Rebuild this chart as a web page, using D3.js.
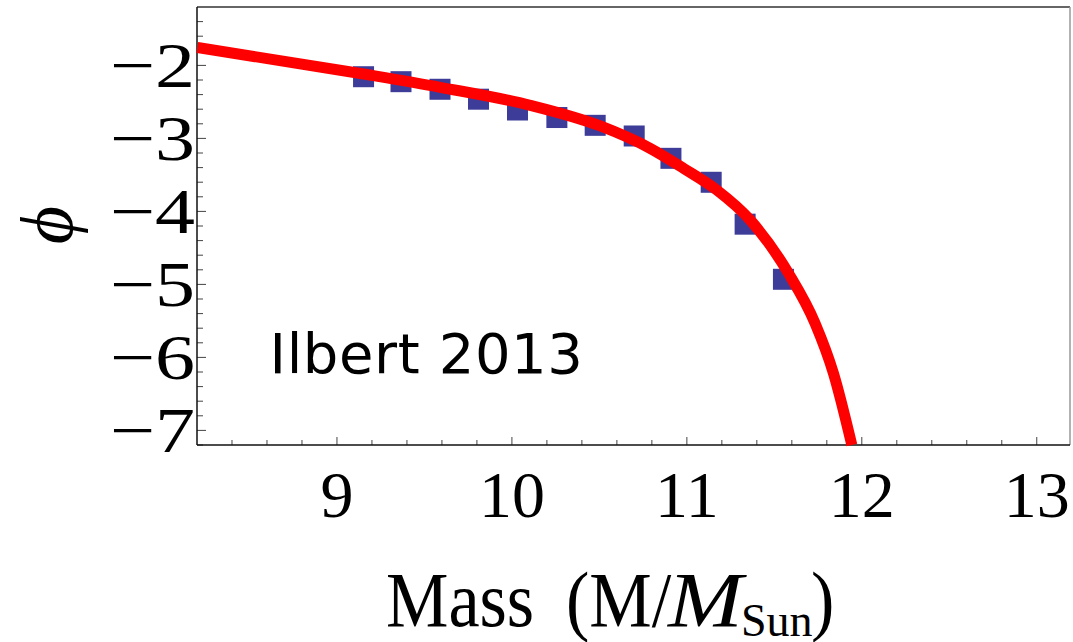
<!DOCTYPE html>
<html>
<head>
<meta charset="utf-8">
<script src="https://cdn.jsdelivr.net/npm/d3@7"></script>
<style>
  html, body { margin: 0; padding: 0; background: #fff; }
  svg { display: block; }
</style>
</head>
<body>
<svg id="chart" width="1073" height="642"></svg>
<script>
// ---- data ----
const massPoints = [9.152, 9.366, 9.589, 9.809, 10.032, 10.257, 10.476, 10.699, 10.909, 11.139, 11.333, 11.552];
const phiPoints  = [-2.155, -2.223, -2.327, -2.463, -2.611, -2.714, -2.821, -2.967, -3.273, -3.601, -4.175, -4.930];

const fitMass = [8.202, 9.152, 9.590, 10.105, 10.505, 10.790, 10.981, 11.171, 11.362, 11.581, 11.733, 11.838, 11.943];
const fitPhi  = [-1.755, -2.118, -2.300, -2.547, -2.830, -3.136, -3.410, -3.707, -4.118, -4.848, -5.533, -6.218, -7.200];

const xTickValues = [9, 10, 11, 12, 13];
const yTickValues = [-2, -3, -4, -5, -6, -7];
const xDomain = [8.2, 13.19];
const yDomain = [-1.2, -7.2];
const annotation = "Ilbert 2013";

// ---- layout ----
const L = 197, R = 1070, T = 7, B = 445;
const svg = d3.select("#chart");

const x = d3.scaleLinear().domain(xDomain).range([L, R]);
const y = d3.scaleLinear().domain(yDomain).range([T, B]);

// minor ticks
const xMinor = d3.range(8.4, 13.19, 0.2).map(v => +v.toFixed(1));
const yMinor = d3.range(-1.4, -7.2, -0.2).map(v => +v.toFixed(1));

const tickCol = "#444";
svg.append("g").selectAll("line").data(xMinor).join("line")
  .attr("x1", d => x(d)).attr("x2", d => x(d))
  .attr("y1", B).attr("y2", d => B - (Math.abs(d - Math.round(d)) < 1e-6 ? 8 : 5))
  .attr("stroke", tickCol).attr("stroke-width", 1);
svg.append("g").selectAll("line").data(yMinor).join("line")
  .attr("y1", d => y(d)).attr("y2", d => y(d))
  .attr("x1", L).attr("x2", d => L + (Math.abs(d - Math.round(d)) < 1e-6 ? 9 : 6))
  .attr("stroke", tickCol).attr("stroke-width", 1);

// frame
svg.append("line").attr("x1", L).attr("x2", R).attr("y1", T).attr("y2", T).attr("stroke", "#333").attr("stroke-width", 1.5);
svg.append("line").attr("x1", R).attr("x2", R).attr("y1", T).attr("y2", B).attr("stroke", "#999").attr("stroke-width", 1.5);
svg.append("line").attr("x1", L).attr("x2", L).attr("y1", T).attr("y2", B).attr("stroke", "#111").attr("stroke-width", 1.5);
svg.append("line").attr("x1", L).attr("x2", R).attr("y1", B).attr("y2", B).attr("stroke", "#111").attr("stroke-width", 1.5);

// tick labels
const serif = "'Liberation Serif', 'Times New Roman', serif";
svg.append("g").selectAll("text").data(xTickValues).join("text")
  .attr("x", d => x(d)).attr("y", 517)
  .attr("text-anchor", "middle")
  .attr("font-family", serif).attr("font-size", 66).attr("fill", "#000")
  .text(d => d);

svg.append("g").selectAll("g").data(yTickValues).join("g")
  .attr("transform", d => `translate(195,${y(d) + 21.5}) scale(1.25,1)`)
  .append("text")
  .attr("text-anchor", "end")
  .attr("font-family", serif).attr("font-size", 64).attr("fill", "#000")
  .text(d => "\u2212" + Math.abs(d));

// data squares
const sq = 21;
svg.append("g").selectAll("rect").data(massPoints.map((m, i) => [m, phiPoints[i]])).join("rect")
  .attr("x", d => x(d[0]) - sq / 2).attr("y", d => y(d[1]) - sq / 2)
  .attr("width", sq).attr("height", sq)
  .attr("fill", "#3d3d99");

// fit curve
const line = d3.line().x(d => x(d[0])).y(d => y(d[1])).curve(d3.curveMonotoneX);
svg.append("path")
  .datum(fitMass.map((m, i) => [m, fitPhi[i]]))
  .attr("d", line)
  .attr("fill", "none").attr("stroke", "#ff0000").attr("stroke-width", 11)
  .attr("stroke-linecap", "butt").attr("stroke-linejoin", "round");

// annotation
svg.append("text")
  .attr("x", x(8.615)).attr("y", y(-6.218))
  .attr("font-family", "'DejaVu Sans', sans-serif").attr("font-size", 56).attr("fill", "#000")
  .attr("letter-spacing", 0.6)
  .text(annotation);

// y-axis title (phi, rotated)
svg.append("text")
  .attr("transform", "translate(72,225) rotate(-90)")
  .attr("text-anchor", "middle")
  .attr("font-family", serif).attr("font-style", "italic").attr("font-size", 74).attr("fill", "#000")
  .text("\u03D5");

// x-axis title
const tg = svg.append("g").attr("font-family", serif).attr("fill", "#000");
tg.append("text").attr("transform", "translate(386,626) scale(0.9,1)").attr("font-size", 78).text("Mass");
tg.append("text").attr("transform", "translate(566,626) scale(0.9,1)").attr("font-size", 78).text("(M/");
tg.append("text").attr("transform", "translate(668,626) scale(1.15,1)").attr("font-size", 78).attr("font-style", "italic").text("M");
tg.append("text").attr("transform", "translate(741,636)").attr("font-size", 46).text("Sun");
tg.append("text").attr("transform", "translate(811,626) scale(0.9,1)").attr("font-size", 78).text(")");
</script>
</body>
</html>
